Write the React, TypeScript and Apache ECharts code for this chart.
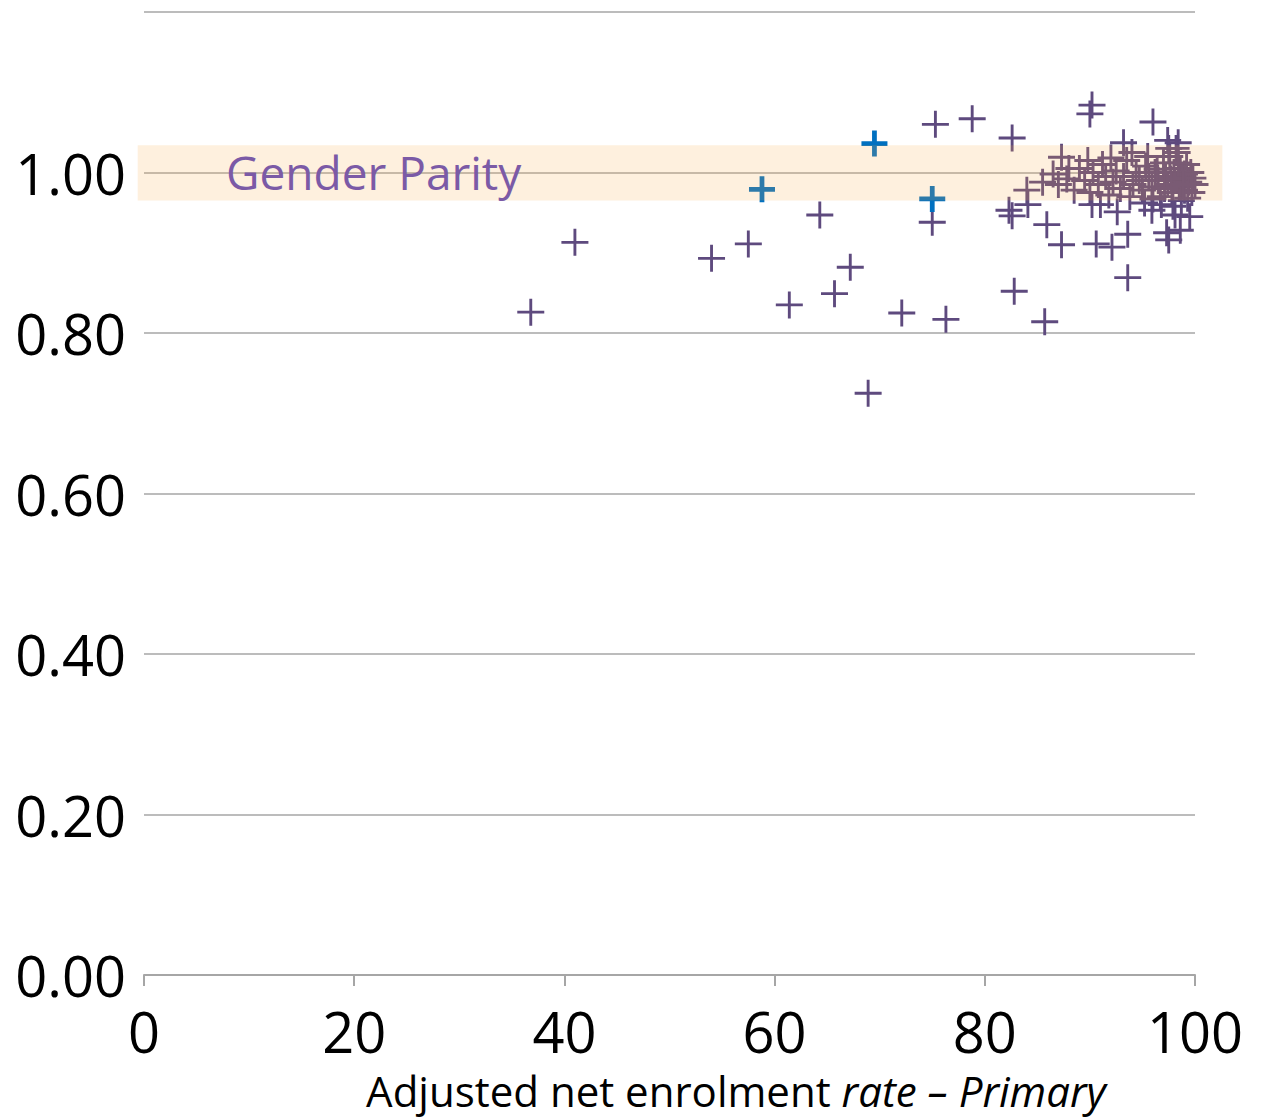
import React, { useEffect, useRef } from "react";
import * as echarts from "echarts";

// Countries: adjusted net enrolment rate (primary) vs gender parity index
const enrolmentRate: number[] = [
  36.8, 41.0, 54.0, 57.5, 61.4, 64.3, 65.7, 67.2, 68.9, 72.1, 75.0, 75.3, 76.3, 78.8,
  82.6, 82.3, 82.6, 82.8, 85.7, 84.1, 85.9, 87.3, 90.6, 92.1, 93.6, 93.6, 90.2, 90.0,
  96.0, 97.4, 93.2, 98.4, 87.3, 84.0, 90.2, 92.6, 95.9, 97.3, 98.6, 99.5, 97.5, 98.1,
  87.0, 87.8, 88.5, 89.0, 89.5, 90.0, 90.3, 90.8, 91.2, 91.5, 91.8, 92.2, 92.5, 92.9,
  93.2, 93.5, 93.8, 94.1, 94.4, 94.7, 95.0, 95.3, 95.6, 95.9, 96.2, 96.5, 96.7, 97.0,
  97.2, 97.4, 97.6, 97.8, 98.0, 98.1, 98.3, 98.5, 98.6, 98.8, 99.0, 99.2, 99.4, 99.6,
  99.8, 100.0, 96.8, 97.9, 98.7, 99.3, 88.0, 86.5, 85.5, 89.8, 91.0, 95.5, 94.0, 92.0,
  96.0, 97.5, 98.2, 99.0, 98.4, 97.7, 96.4, 99.7, 100.3, 97.1, 98.9, 95.2,
];
const parityIndex: number[] = [
  0.826, 0.913, 0.893, 0.911, 0.835, 0.947, 0.849, 0.882, 0.725, 0.825, 0.938, 1.06, 0.817, 1.067,
  1.043, 0.953, 0.946, 0.852, 0.814, 0.96, 0.935, 0.91, 0.911, 0.907, 0.869, 0.923, 1.084, 1.073,
  1.063, 1.04, 1.037, 1.037, 1.019, 0.978, 0.96, 0.951, 0.953, 0.925, 0.928, 0.945, 0.916, 0.947,
  0.985, 0.992, 0.978, 1.005, 0.99, 0.975, 1.0, 0.985, 1.01, 0.995, 0.972, 0.988, 1.002, 0.98,
  0.995, 1.015, 0.97, 0.985, 1.0, 0.99, 0.978, 1.008, 0.995, 0.982, 1.0, 0.99, 0.97, 1.012,
  0.995, 0.985, 1.02, 0.975, 1.0, 0.99, 1.025, 0.982, 1.005, 0.995, 0.978, 1.01, 0.988, 1.0,
  0.993, 0.985, 0.96, 0.958, 0.965, 0.968, 1.005, 0.998, 0.988, 1.015, 0.96, 1.02, 1.025, 1.018,
  0.967, 1.03, 1.03, 0.998, 1.012, 0.992, 1.004, 0.975, 0.995, 0.98, 0.985, 0.962,
];

// Highlighted countries
const highlightRate: number[] = [58.8, 69.5, 75.0];
const highlightParity: number[] = [0.979, 1.036, 0.967];

// Gender parity band and its horizontal extent
const bandLow = 0.965;
const bandHigh = 1.034;
const bandXStart = -0.6;
const bandXEnd = 102.6;

const xTicks = { min: 0, max: 100, interval: 20 };
const yTicks = { min: 0, max: 1.2, interval: 0.2 };

const FONT = "'Open Sans', 'Noto Sans', sans-serif";

const plusPath = (t: number) =>
  `path://M${15 - t / 2},0 H${15 + t / 2} V${15 - t / 2} H30 V${15 + t / 2} H${15 + t / 2} V30 H${15 - t / 2} V${15 + t / 2} H0 V${15 - t / 2} H${15 - t / 2} Z`;

export default function App() {
  const ref = useRef<HTMLDivElement>(null);

  useEffect(() => {
    document.body.style.margin = "0";
    if (!ref.current) return;
    const chart = echarts.init(ref.current, undefined, { renderer: "svg" });

    const mainData = enrolmentRate.map((x, i) => [x, parityIndex[i]]);
    const hiData = highlightRate.map((x, i) => [x, highlightParity[i]]);

    chart.setOption({
      animation: false,
      backgroundColor: "#ffffff",
      grid: { left: 144, right: 69, top: 12, bottom: 145, containLabel: false },
      xAxis: {
        type: "value",
        min: xTicks.min,
        max: xTicks.max,
        interval: xTicks.interval,
        axisLine: { show: true, lineStyle: { color: "#a6a6a6", width: 2 } },
        axisTick: { show: true, length: 11, lineStyle: { color: "#a6a6a6", width: 2 } },
        splitLine: { show: false },
        axisLabel: { color: "#000", fontSize: 56, fontFamily: FONT, margin: 32, lineHeight: 48 },
      },
      yAxis: {
        type: "value",
        min: yTicks.min,
        max: yTicks.max,
        interval: yTicks.interval,
        axisLine: { show: false },
        axisTick: { show: false },
        splitLine: { show: true, lineStyle: { color: "#a6a6a6", width: 1.5 } },
        axisLabel: {
          color: "#000",
          fontSize: 56,
          fontFamily: FONT,
          margin: 18,
          formatter: (v: number) => (Math.abs(v - 1.2) < 1e-6 ? "" : v.toFixed(2)),
        },
      },
      graphic: [
        {
          type: "text",
          x: 226,
          y: 172,
          z: 10,
          style: {
            text: "Gender Parity",
            fill: "#7b5aa6",
            font: `46px ${FONT}`,
            textAlign: "left",
            textVerticalAlign: "middle",
          },
        },
        {
          type: "text",
          x: 736,
          y: 1090,
          style: {
            text: "{n|Adjusted net enrolment }{i|rate – Primary}",
            textAlign: "center",
            textVerticalAlign: "middle",
            rich: {
              n: { fontSize: 42, fontFamily: FONT, fill: "#000", color: "#000", lineHeight: 44 },
              i: { fontSize: 42, fontFamily: FONT, fontStyle: "italic", fill: "#000", color: "#000", lineHeight: 44 },
            },
          },
        },
      ],
      series: [
        {
          type: "scatter",
          data: mainData,
          symbol: plusPath(3.2),
          symbolSize: 27,
          itemStyle: { color: "#5e4a7e", opacity: 1 },
          z: 2,
        },
        {
          type: "scatter",
          data: hiData,
          symbol: plusPath(5.5),
          symbolSize: 26,
          itemStyle: { color: "#0070c0", opacity: 1 },
          z: 3,
        },
        {
          type: "custom",
          z: 5,
          silent: true,
          encode: { x: [0, 2], y: [1, 3] },
          data: [[bandXStart, bandHigh, bandXEnd, bandLow]],
          renderItem: (params: any, api: any) => {
            const p1 = api.coord([api.value(0), api.value(1)]);
            const p2 = api.coord([api.value(2), api.value(3)]);
            return {
              type: "rect",
              shape: { x: p1[0], y: p1[1], width: p2[0] - p1[0], height: p2[1] - p1[1] },
              style: { fill: "rgba(250,172,72,0.18)" },
            };
          },
        },
      ],
    });

    return () => chart.dispose();
  }, []);

  return <div ref={ref} style={{ width: 1264, height: 1120 }} />;
}
